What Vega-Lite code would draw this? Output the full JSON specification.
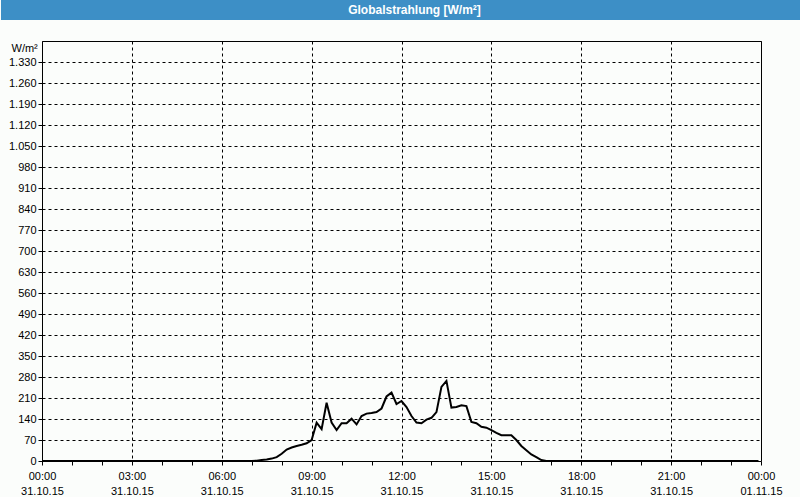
{
  "$schema": "https://vega.github.io/schema/vega-lite/v6.json",
  "padding": 0,
  "background": "#fbfdfb",
  "columns": 1,
  "align": "none",
  "spacing": 20,
  "config": {"font": "Liberation Sans", "view": {"stroke": null}},
  "concat": [
    {
      "width": 759,
      "height": 20,
      "view": {"fill": "#3d8fc6", "stroke": null},
      "data": {"values": [{"label": "Globalstrahlung [W/m²]"}]},
      "mark": {"type": "text", "color": "white", "fontWeight": "bold", "fontSize": 12, "font": "Liberation Sans", "dx": -7},
      "encoding": {
        "text": {"field": "label"},
        "y": {
          "field": "label",
          "type": "nominal",
          "axis": {
            "title": null,
            "labels": false,
            "ticks": false,
            "grid": false,
            "domain": true,
            "domainColor": "#3d8fc6",
            "domainWidth": 41,
            "offset": 20.5,
            "translate": 0,
            "minExtent": 0
          }
        }
      }
    },
    {
      "width": 719,
      "height": 420,
      "view": {"stroke": "black", "strokeWidth": 1},
      "data": {"values": [
        {"time": "00:00", "h": 0, "v": 0},
        {"time": "07:00", "h": 7, "v": 0},
        {"time": "07:10", "h": 7.1667, "v": 1},
        {"time": "07:20", "h": 7.3333, "v": 3},
        {"time": "07:30", "h": 7.5, "v": 5},
        {"time": "07:40", "h": 7.6667, "v": 8},
        {"time": "07:50", "h": 7.8333, "v": 13},
        {"time": "08:00", "h": 8, "v": 24},
        {"time": "08:10", "h": 8.1667, "v": 38},
        {"time": "08:20", "h": 8.3333, "v": 45},
        {"time": "08:30", "h": 8.5, "v": 50},
        {"time": "08:40", "h": 8.6667, "v": 54},
        {"time": "08:50", "h": 8.8333, "v": 59},
        {"time": "09:00", "h": 9, "v": 70},
        {"time": "09:10", "h": 9.1667, "v": 128},
        {"time": "09:20", "h": 9.3333, "v": 106},
        {"time": "09:30", "h": 9.5, "v": 194},
        {"time": "09:40", "h": 9.6667, "v": 128},
        {"time": "09:50", "h": 9.8333, "v": 103},
        {"time": "10:00", "h": 10, "v": 126},
        {"time": "10:10", "h": 10.1667, "v": 126},
        {"time": "10:20", "h": 10.3333, "v": 141},
        {"time": "10:30", "h": 10.5, "v": 122},
        {"time": "10:40", "h": 10.6667, "v": 150},
        {"time": "10:50", "h": 10.8333, "v": 158},
        {"time": "11:00", "h": 11, "v": 160},
        {"time": "11:10", "h": 11.1667, "v": 163},
        {"time": "11:20", "h": 11.3333, "v": 175},
        {"time": "11:30", "h": 11.5, "v": 215},
        {"time": "11:40", "h": 11.6667, "v": 228},
        {"time": "11:50", "h": 11.8333, "v": 190},
        {"time": "12:00", "h": 12, "v": 200},
        {"time": "12:10", "h": 12.1667, "v": 180},
        {"time": "12:20", "h": 12.3333, "v": 150},
        {"time": "12:30", "h": 12.5, "v": 128},
        {"time": "12:40", "h": 12.6667, "v": 126},
        {"time": "12:50", "h": 12.8333, "v": 138},
        {"time": "13:00", "h": 13, "v": 144},
        {"time": "13:10", "h": 13.1667, "v": 163},
        {"time": "13:20", "h": 13.3333, "v": 247},
        {"time": "13:30", "h": 13.5, "v": 267},
        {"time": "13:40", "h": 13.6667, "v": 178},
        {"time": "13:50", "h": 13.8333, "v": 180},
        {"time": "14:00", "h": 14, "v": 186},
        {"time": "14:10", "h": 14.1667, "v": 183},
        {"time": "14:20", "h": 14.3333, "v": 130},
        {"time": "14:30", "h": 14.5, "v": 126},
        {"time": "14:40", "h": 14.6667, "v": 114},
        {"time": "14:50", "h": 14.8333, "v": 111},
        {"time": "15:00", "h": 15, "v": 103},
        {"time": "15:10", "h": 15.1667, "v": 94},
        {"time": "15:20", "h": 15.3333, "v": 86},
        {"time": "15:30", "h": 15.5, "v": 86},
        {"time": "15:40", "h": 15.6667, "v": 86},
        {"time": "15:50", "h": 15.8333, "v": 70},
        {"time": "16:00", "h": 16, "v": 50},
        {"time": "16:10", "h": 16.1667, "v": 36},
        {"time": "16:20", "h": 16.3333, "v": 22},
        {"time": "16:30", "h": 16.5, "v": 13},
        {"time": "16:40", "h": 16.6667, "v": 3},
        {"time": "16:50", "h": 16.8333, "v": 0},
        {"time": "23:55", "h": 23.9167, "v": 0}
      ]},
      "mark": {"type": "line", "color": "black", "strokeWidth": 2},
      "encoding": {
        "x": {
          "field": "h",
          "type": "quantitative",
          "scale": {"domain": [0, 24], "nice": false, "zero": false},
          "axis": {
            "title": null,
            "values": [0, 1, 2, 3, 4, 5, 6, 7, 8, 9, 10, 11, 12, 13, 14, 15, 16, 17, 18, 19, 20, 21, 22, 23, 24],
            "labelExpr": "datum.value % 3 == 0 ? [(datum.value == 24 ? '00' : (datum.value < 10 ? '0' : '') + datum.value) + ':00', datum.value == 24 ? '01.11.15' : '31.10.15'] : ''",
            "labelFlush": false,
            "labelOverlap": false,
            "labelFontSize": 11,
            "labelColor": "black",
            "labelPadding": 5,
            "labelLineHeight": 15,
            "domain": false,
            "tickColor": "black",
            "tickSize": 4,
            "grid": true,
            "gridColor": "black",
            "gridDash": [3, 3],
            "gridOpacity": {"condition": {"test": "datum.value % 3 == 0", "value": 1}, "value": 0}
          }
        },
        "y": {
          "field": "v",
          "type": "quantitative",
          "scale": {"domain": [0, 1400], "nice": false},
          "axis": {
            "values": [0, 70, 140, 210, 280, 350, 420, 490, 560, 630, 700, 770, 840, 910, 980, 1050, 1120, 1190, 1260, 1330],
            "labelExpr": "replace(format(datum.value, ','), ',', '.')",
            "labelFontSize": 11,
            "labelColor": "black",
            "labelPadding": 2,
            "domain": false,
            "tickColor": "black",
            "tickSize": 4,
            "grid": true,
            "gridColor": "black",
            "gridDash": [3, 3],
            "gridOpacity": 1,
            "minExtent": 41,
            "title": "W/m²",
            "titleFontSize": 11,
            "titleFontWeight": "normal",
            "titleColor": "black",
            "titleAngle": 0,
            "titleAlign": "left",
            "titleBaseline": "top",
            "titleX": -31,
            "titleY": 1
          }
        }
      }
    }
  ]
}
